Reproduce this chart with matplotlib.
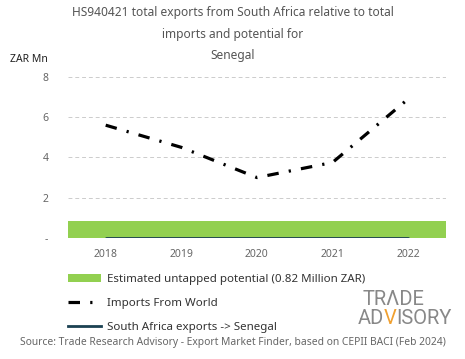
import matplotlib.pyplot as plt
from matplotlib.patches import Patch
from matplotlib.lines import Line2D

years = ["2018", "2019", "2020", "2021", "2022"]
imports_world = [5.6, 4.5, 3.0, 3.75, 6.9]
sa_exports = [0.0, 0.0, 0.0, 0.0, 0.0]
untapped = 0.82
yticks = [0, 2, 4, 6, 8]
yticklabels = ["-", "2", "4", "6", "8"]

plt.rcParams['font.family'] = ['Noto Sans', 'DejaVu Sans']
fig = plt.figure(figsize=(4.65, 3.59), dpi=100)
ax = fig.add_axes([0.146, 0.337, 0.813, 0.449])

x = list(range(len(years)))
ax.bar([2], [untapped], width=5.0, color="#92d050", zorder=2)
ax.plot(x, sa_exports, color="#1b4152", lw=2.0, solid_capstyle="round", zorder=3)
dash = (0, (3.6, 3.2, 0.7, 3.2))
ax.plot(x, imports_world, color="black", lw=2.3, linestyle=dash,
        dash_capstyle="butt", zorder=4)

ax.set_xlim(-0.5, 4.5)
ax.set_ylim(0, 8)
ax.set_xticks(x)
ax.set_xticklabels(years)
ax.set_yticks(yticks)
ax.set_yticklabels(yticklabels)
ax.tick_params(axis="both", length=0, labelsize=7.5, colors="#666666")
ax.tick_params(axis="x", pad=8)
ax.tick_params(axis="y", pad=14)
for s in ax.spines.values():
    s.set_visible(False)
ax.yaxis.grid(True, linestyle=(0, (4, 3)), color="#cccccc", lw=0.7, zorder=0)
ax.set_axisbelow(True)

tc = "#555555"
fig.text(0.5, 0.965, "HS940421 total exports from South Africa relative to total",
         ha="center", va="center", fontsize=8.6, color=tc)
fig.text(0.5, 0.905, "imports and potential for", ha="center", va="center",
         fontsize=8.6, color=tc)
fig.text(0.5, 0.845, "Senegal", ha="center", va="center", fontsize=8.6, color=tc)
fig.text(0.022, 0.833, "ZAR Mn", ha="left", va="center", fontsize=7.5, color="#222222")

handles = [Patch(facecolor="#92d050", edgecolor="none"),
           Line2D([], [], color="black", lw=2.3, linestyle=dash),
           Line2D([], [], color="#1b4152", lw=2.0)]
labels = ["Estimated untapped potential (0.82 Million ZAR)",
          "Imports From World",
          "South Africa exports -> Senegal"]
leg = fig.legend(handles, labels, loc="upper left", bbox_to_anchor=(0.146, 0.238),
                 frameon=False, fontsize=8.3, labelspacing=1.12, handlelength=2.9,
                 handletextpad=0.5, borderaxespad=0, borderpad=0)
for t in leg.get_texts():
    t.set_color("#333333")

logo_font = "Roboto"
logo_gray = "#888888"
fig.canvas.draw()
r = fig.canvas.get_renderer()

def place_parts(parts, right_px, y, size):
    objs = []
    for txt, col in parts:
        t = fig.text(0, y, txt, ha="left", va="center", fontsize=size,
                     color=col, family=logo_font, fontweight="normal")
        objs.append(t)
    widths = [o.get_window_extent(renderer=r).width for o in objs]
    xpos = (right_px - sum(widths)) / fig.bbox.width
    for o, w in zip(objs, widths):
        o.set_x(xpos)
        xpos += w / fig.bbox.width

place_parts([("TRΛDE", logo_gray)], 424, 0.167, 14.5)
place_parts([("AD", logo_gray), ("V", "#f0a030"), ("ISORY", logo_gray)], 452, 0.113, 14.5)

fig.text(0.5, 0.045, "Source: Trade Research Advisory - Export Market Finder, based on CEPII BACI (Feb 2024)",
         ha="center", va="center", fontsize=7.4, color="#666666")

fig.savefig("out.png", dpi=100)
